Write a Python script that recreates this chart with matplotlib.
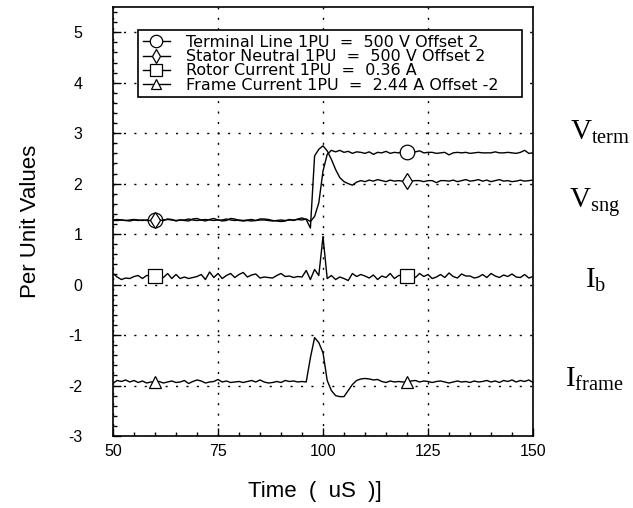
import numpy as np
import matplotlib
matplotlib.use("Agg")
import matplotlib.pyplot as plt
from matplotlib.ticker import MultipleLocator

plt.rcParams['font.family'] = ['Liberation Sans', 'DejaVu Sans']
plt.rcParams['axes.unicode_minus'] = False
plt.rcParams['mathtext.fontset'] = 'custom'
plt.rcParams['mathtext.rm'] = 'Liberation Serif'
plt.rcParams['mathtext.it'] = 'Liberation Serif:italic'

# time axis, one sample per microsecond
time_us = np.arange(50, 151)

# values (per unit), 50..150 us
v_term = [1.28, 1.29, 1.28, 1.27, 1.28, 1.29, 1.28, 1.27, 1.28, 1.28,
          1.28, 1.27, 1.28, 1.29, 1.28, 1.27, 1.28, 1.28, 1.30, 1.28,
          1.27, 1.28, 1.29, 1.28, 1.27, 1.28, 1.28, 1.30, 1.28, 1.27,
          1.28, 1.27, 1.28, 1.29, 1.27, 1.28, 1.28, 1.27, 1.26, 1.27,
          1.28, 1.27, 1.28, 1.28, 1.29, 1.28, 1.30, 1.25, 1.35, 1.62,
          2.25, 2.58, 2.66, 2.63, 2.66, 2.62, 2.64, 2.60, 2.63, 2.62,
          2.60, 2.63, 2.58, 2.62, 2.61, 2.64, 2.60, 2.62, 2.61, 2.63,
          2.62, 2.60, 2.63, 2.65, 2.61, 2.62, 2.62, 2.60, 2.61, 2.62,
          2.57, 2.61, 2.62, 2.61, 2.62, 2.60, 2.61, 2.62, 2.61, 2.61,
          2.61, 2.63, 2.61, 2.61, 2.62, 2.61, 2.60, 2.62, 2.66, 2.60,
          2.61]

v_sng = [1.27, 1.27, 1.28, 1.27, 1.26, 1.28, 1.27, 1.28, 1.27, 1.27,
         1.27, 1.28, 1.27, 1.30, 1.29, 1.26, 1.28, 1.27, 1.26, 1.30,
         1.31, 1.28, 1.26, 1.29, 1.31, 1.28, 1.26, 1.27, 1.31, 1.30,
         1.27, 1.26, 1.27, 1.26, 1.27, 1.30, 1.30, 1.29, 1.27, 1.26,
         1.25, 1.26, 1.29, 1.27, 1.30, 1.32, 1.29, 1.12, 2.55, 2.68,
         2.75, 2.65, 2.48, 2.28, 2.12, 2.04, 2.00, 1.97, 2.03, 2.06,
         2.04, 2.07, 2.05, 2.08, 2.06, 2.04, 2.07, 2.05, 2.06, 2.05,
         2.06, 2.05, 2.06, 2.06, 2.04, 2.06, 2.06, 2.02, 2.06, 2.06,
         2.05, 2.07, 2.04, 2.06, 2.08, 2.05, 2.06, 2.08, 2.05, 2.07,
         2.04, 2.06, 2.08, 2.05, 2.06, 2.04, 2.05, 2.07, 2.05, 2.06,
         2.07]

i_rotor = [0.22, 0.15, 0.10, 0.13, 0.12, 0.16, 0.18, 0.12, 0.18, 0.18,
           0.18, 0.18, 0.14, 0.22, 0.12, 0.20, 0.12, 0.15, 0.12, 0.14,
           0.16, 0.20, 0.10, 0.25, 0.14, 0.22, 0.12, 0.18, 0.22, 0.14,
           0.20, 0.24, 0.15, 0.19, 0.21, 0.13, 0.15, 0.14, 0.13, 0.18,
           0.22, 0.16, 0.17, 0.14, 0.16, 0.15, 0.28, 0.10, 0.30, 0.18,
           0.95, 0.12, 0.18, 0.10, 0.15, 0.12, 0.08, 0.22, 0.16, 0.20,
           0.17, 0.13, 0.19, 0.10, 0.17, 0.14, 0.22, 0.12, 0.18, 0.18,
           0.18, 0.18, 0.14, 0.22, 0.16, 0.20, 0.12, 0.15, 0.20, 0.14,
           0.23, 0.16, 0.13, 0.21, 0.17, 0.17, 0.13, 0.15, 0.20, 0.14,
           0.22, 0.17, 0.14, 0.19, 0.16, 0.21, 0.15, 0.14, 0.20, 0.13,
           0.16]

i_frame = [-1.95, -1.90, -1.92, -1.89, -1.93, -1.90, -1.94, -1.91, -1.95, -1.93,
           -1.93, -1.92, -1.95, -1.93, -1.91, -1.94, -1.93, -1.90, -1.96, -1.92,
           -1.89, -1.91, -1.95, -1.93, -1.92, -1.88, -1.93, -1.91, -1.94, -1.93,
           -1.92, -1.94, -1.92, -1.90, -1.93, -1.89, -1.93, -1.95, -1.94, -1.92,
           -1.94, -1.90, -1.92, -1.91, -1.93, -1.92, -1.93, -1.45, -1.05, -1.15,
           -1.35, -1.90, -2.10, -2.20, -2.22, -2.22, -2.10, -1.98, -1.90, -1.87,
           -1.86, -1.87, -1.89, -1.88, -1.92, -1.94, -1.91, -1.93, -1.92, -1.93,
           -1.93, -1.91, -1.90, -1.93, -1.91, -1.92, -1.94, -1.92, -1.91, -1.93,
           -1.95, -1.93, -1.91, -1.93, -1.92, -1.94, -1.91, -1.93, -1.92, -1.90,
           -1.93, -1.91, -1.94, -1.90, -1.92, -1.89, -1.93, -1.90, -1.92, -1.89,
           -1.94]

legend_labels = ["Terminal Line 1PU  =  500 V Offset 2",
                 "Stator Neutral 1PU  =  500 V Offset 2",
                 "Rotor Current 1PU  =  0.36 A",
                 "Frame Current 1PU  =  2.44 A Offset -2"]
side_labels = [r'$\mathrm{V}_{\mathrm{term}}$', r'$\mathrm{V}_{\mathrm{sng}}$',
               r'$\mathrm{I}_{\mathrm{b}}$', r'$\mathrm{I}_{\mathrm{frame}}$']

fig = plt.figure(figsize=(6.33, 5.08), dpi=100)
ax = fig.add_axes([113/633, 1-436/508, 420/633, 429/508])

mark_idx = [10, 70]
series = [v_term, v_sng, i_rotor, i_frame]
markers = ['o', 'd', 's', '^']
msizes = [10.5, 8, 10, 8]
for vals, mk, ms, lab in zip(series, markers, msizes, legend_labels):
    ax.plot(time_us, vals, color='black', lw=1.0, marker=mk, ms=ms,
            mfc='white', mec='black', mew=0.9, markevery=mark_idx, label=lab)

ax.set_xlim(50, 150)
ax.set_ylim(-3, 5.5)
ax.xaxis.set_major_locator(MultipleLocator(25))
ax.xaxis.set_minor_locator(MultipleLocator(5))
ax.yaxis.set_major_locator(MultipleLocator(1))
ax.yaxis.set_minor_locator(MultipleLocator(0.2))
ax.tick_params(which='both', direction='in', top=False, right=False, width=1.0)
ax.tick_params(which='major', length=6)
ax.tick_params(which='minor', length=3)
ax.tick_params(axis='y', which='major', pad=22, labelsize=11.5)
ax.tick_params(axis='x', which='major', pad=6, labelsize=11.5)
ax.grid(True, which='major', color='black', lw=1.0, linestyle=(0, (1.5, 6)))
for sp in ax.spines.values():
    sp.set_linewidth(1.2)

ax.set_xlabel("Time  (  uS  )]", fontsize=16)
ax.xaxis.set_label_coords(0.481, -0.105)
ax.set_ylabel("Per Unit Values", fontsize=16)
ax.yaxis.set_label_coords(-0.171, 0.5)

leg = ax.legend(loc='upper left', bbox_to_anchor=(0.0595, 0.79, 0.915, 0.156),
                mode='expand', borderaxespad=0, fancybox=False, framealpha=1,
                edgecolor='black', prop={'family': 'DejaVu Sans', 'size': 11.5},
                handlelength=1.7, handletextpad=1.0, labelspacing=-0.05,
                borderpad=0.3, numpoints=1, markerscale=0.85)
leg.get_frame().set_linewidth(1.2)

side_pos = [(570, 140), (569, 208), (585, 288), (565, 387)]
for txt, (px, py) in zip(side_labels, side_pos):
    fig.text(px/633, 1-py/508, txt, fontsize=21, ha='left', va='baseline')

fig.savefig("out.png", dpi=100)
